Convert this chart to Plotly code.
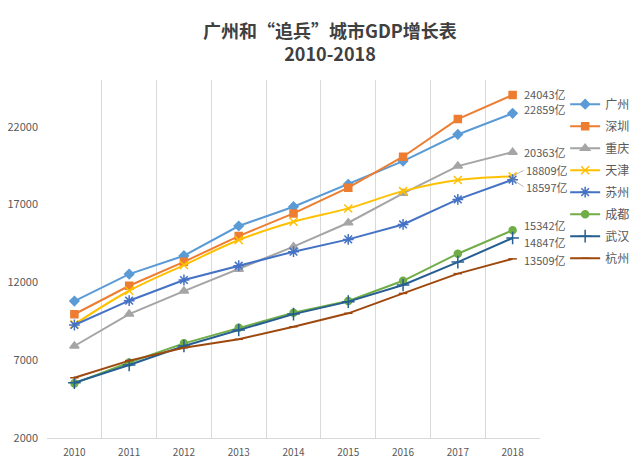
import plotly.graph_objects as go

years = ["2010", "2011", "2012", "2013", "2014", "2015", "2016", "2017", "2018"]
cities = ["广州", "深圳", "重庆", "天津", "苏州", "成都", "武汉", "杭州"]

guangzhou = [10800, 12530, 13710, 15620, 16860, 18300, 19790, 21500, 22859]
shenzhen = [9950, 11780, 13320, 14970, 16430, 18080, 20070, 22490, 24043]
chongqing = [7910, 9960, 11440, 12840, 14290, 15830, 17720, 19470, 20363]
tianjin = [9300, 11460, 13110, 14720, 15890, 16750, 17860, 18570, 18809]
suzhou = [9260, 10820, 12150, 13070, 13970, 14760, 15720, 17330, 18597]
chengdu = [5510, 6850, 8080, 9080, 10050, 10800, 12100, 13840, 15342]
wuhan = [5550, 6690, 7910, 8940, 9960, 10760, 11830, 13300, 14847]
hangzhou = [5870, 6970, 7800, 8340, 9150, 10010, 11290, 12560, 13509]

series = [guangzhou, shenzhen, chongqing, tianjin, suzhou, chengdu, wuhan, hangzhou]
colors = ["#5B9BD5", "#ED7D31", "#A5A5A5", "#FFC000", "#4472C4", "#70AD47", "#255E91", "#9E480E"]
symbols = ["diamond", "square", "triangle-up", "x-thin-open", "asterisk-open",
           "circle", "cross-thin-open", "line-ew-open"]
sizes = [7, 7, 8, 8, 9, 7, 9, 6]
shapes_line = ["linear", "linear", "linear", "spline", "linear", "linear", "linear", "linear"]
label_yshift = [4, 1, 0, 0, 0, 5, -4, -1]

font_cn = "Noto Sans CJK SC"
grey = "#595959"

fig = go.Figure()
for name, vals, c, s, sz, ls in zip(cities, series, colors, symbols, sizes, shapes_line):
    fig.add_trace(go.Scatter(
        x=years, y=vals, name=name, mode="lines+markers",
        line=dict(color=c, width=2, shape=ls),
        marker=dict(symbol=s, size=sz, color=c, line=dict(color=c, width=1.5)),
        legendgroup=name,
    ))

last_idx = len(years) - 1
annotations = []
for i, (vals, sh) in enumerate(zip(series, label_yshift)):
    txt = f"{vals[-1]}亿"
    base = dict(x=last_idx, y=vals[-1], text=txt, xref="x", yref="y",
                xanchor="left", yanchor="middle",
                font=dict(family=font_cn, size=11, color=grey))
    if cities[i] == "天津":
        base.update(showarrow=True, arrowhead=0, arrowwidth=0.8, arrowcolor="#A6A6A6",
                    ax=11, ay=-6)
    elif cities[i] == "苏州":
        base.update(showarrow=True, arrowhead=0, arrowwidth=0.8, arrowcolor="#A6A6A6",
                    ax=11, ay=7)
    else:
        base.update(showarrow=False, xshift=9, yshift=sh)
    annotations.append(base)

W, H = 632, 458
fig.update_layout(
    width=W, height=H,
    margin=dict(l=39, r=100, t=72, b=28, autoexpand=False),
    paper_bgcolor="white", plot_bgcolor="white",
    title=dict(text="<b>广州和“追兵”城市GDP增长表</b><br><b>2010-2018</b>",
               x=322 / W, xanchor="center", xref="container",
               y=1 - 30 / H, yanchor="top", yref="container",
               font=dict(family=font_cn, size=18, color="#404040")),
    showlegend=True,
    legend=dict(x=1.051, xanchor="left", y=0.973, yanchor="top",
                font=dict(family=font_cn, size=12, color=grey),
                tracegroupgap=3, itemwidth=30, bgcolor="rgba(0,0,0,0)"),
    annotations=annotations,
    xaxis=dict(type="category", tickson="boundaries", showgrid=True, gridcolor="#D9D9D9",
               gridwidth=1, showline=True, linecolor="#D9D9D9", ticks="",
               ticklabelstandoff=5,
               tickfont=dict(family=font_cn, size=10, color=grey), zeroline=False,
               range=[-0.5, 8.5], automargin=False),
    yaxis=dict(range=[2000, 25000], tickvals=[2000, 7000, 12000, 17000, 22000],
               tickformat="d", automargin=False,
               showgrid=False, zeroline=False, showline=False, ticks="",
               ticklabelstandoff=8,
               tickfont=dict(family=font_cn, size=11, color=grey)),
)

fig.write_html("out.html")
